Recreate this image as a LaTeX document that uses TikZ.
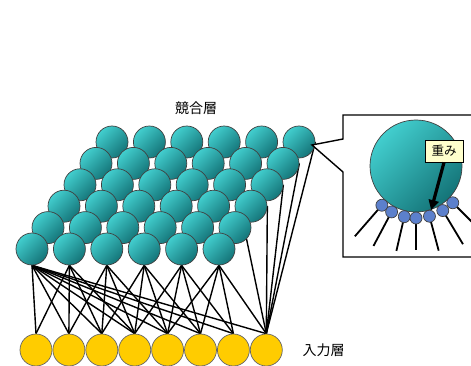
\documentclass[tikz,border=0pt]{standalone}
\usepackage{fontspec}
\setmainfont{Noto Sans CJK JP}
\usetikzlibrary{backgrounds,arrows.meta,calc}
\definecolor{tealL}{RGB}{66,206,206}
\definecolor{tealD}{RGB}{20,116,120}
\definecolor{gold}{RGB}{255,204,0}
\definecolor{wblue}{RGB}{92,128,204}
\definecolor{notey}{RGB}{255,255,204}
\tikzset{
    unit/.style={circle, draw=black!75, line width=0.7pt, minimum size=32pt, inner sep=0pt,
        top color=tealL, bottom color=tealD, shading angle=45},
    inp/.style={circle, draw=black!60, line width=0.7pt, fill=gold, minimum size=32pt, inner sep=0pt},
    wt/.style={circle, draw=black!75, line width=0.7pt, fill=wblue, minimum size=12pt, inner sep=0pt},
    link/.style={black, line width=1.4pt},
    lbl/.style={font=\fontsize{14}{16}\selectfont}
}
\begin{document}
\begin{tikzpicture}[x=1pt,y=-1pt]
    \useasboundingbox (0,0) rectangle (471,366);
    \clip (0,0) rectangle (471,366);
    % input layer
    \foreach \i in {1,...,8}
    {
        \node[inp] (in\i) at ({36+32.9*(\i-1)},350) {};
    }
    % competitive layer, back rows first
    \foreach \r in {5,4,...,0}
    {
        \foreach \c in {1,...,6}
        {
            \node[unit] (u\r\c) at ({32+16*\r+37.4*(\c-1)},{249-21.4*\r}) {};
        }
    }
    \begin{pgfonlayer}{background}
        \foreach \i in {1,...,8}
        {
            \draw[link] (u01.south) -- (in\i.north);
        }
        \foreach \c/\a/\b in {2/1/4, 3/2/5, 4/3/6, 5/4/7, 6/5/8}
        {
            \foreach \i in {\a,...,\b}
            {
                \draw[link] (u0\c.south) -- (in\i.north);
            }
        }
        \draw[link] (u16.south east) -- (in8.north);
        \foreach \r in {2,...,5}
        {
            \draw[link] (u\r6.east) -- (in8.north);
        }
    \end{pgfonlayer}
    \node[lbl] (cname) at (196,108) {競合層};
    \node[lbl, anchor=west] (iname) at (299,350) {入力層};
    % zoomed unit with its weights
    \coordinate (tip) at (312,145);
    \draw[fill=white, line width=1.4pt] (472,115) -- (343,115) -- (343,139) -- (tip)
        -- (343,172) -- (343,257) -- (472,257);
    \node[unit, minimum size=92pt] (big) at (416,166) {};
    \foreach \a in {131,118,103,90,75,59,45}
    {
        \draw[link, line width=1.8pt] (big.center) ++(\a:52) -- ++(\a:{32+14*abs(cos(\a))});
    }
    \foreach \a [count=\k] in {131,118,103,90,75,59,45}
    {
        \node[wt] (w\k) at ($(big.center)+(\a:52)$) {};
    }
    \node[draw, line width=0.8pt, fill=notey, font=\fontsize{12.5}{14}\selectfont, minimum width=38pt,
        minimum height=22pt, inner sep=2pt] (wlabel) at (444,151) {重み};
    \draw[-{Triangle[length=10pt,width=10pt]}, line width=3.2pt] (wlabel.south) -- (w5);
\end{tikzpicture}
\end{document}
